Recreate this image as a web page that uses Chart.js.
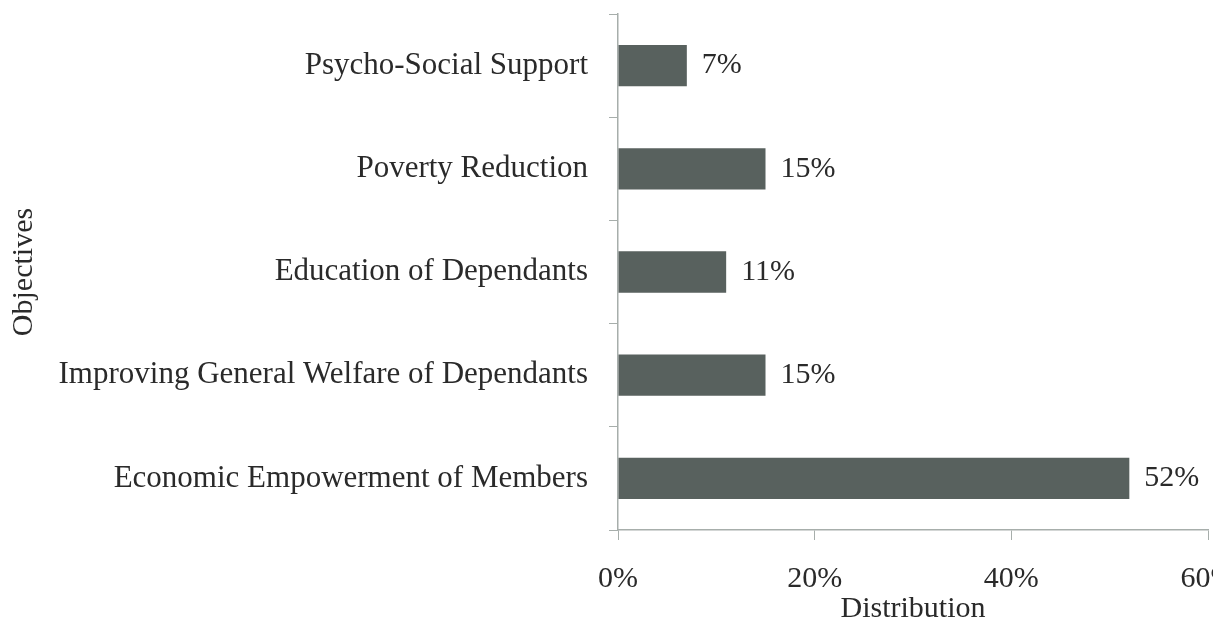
<!DOCTYPE html>
<html>
<head>
<meta charset="utf-8">
<script src="https://cdn.jsdelivr.net/npm/chart.js@4"></script>
<style>
  html, body { margin: 0; padding: 0; background: #fff; overflow: hidden; }
  #wrap { width: 1213px; height: 624px; position: relative; }
</style>
</head>
<body>
<div id="wrap"><canvas id="objectives_chart"></canvas></div>
<script>
const objectives = [
  'Psycho-Social Support',
  'Poverty Reduction',
  'Education of Dependants',
  'Improving General Welfare of Dependants',
  'Economic Empowerment of Members'
];
const distribution = [7, 15, 11, 15, 52];
const xTicks = [0, 20, 40, 60];

const barColor = '#58615e';
const axisColor = '#a7aeab';
const textColor = '#2a2a2a';

Chart.defaults.font.family = "'Liberation Serif', 'Times New Roman', serif";
Chart.defaults.color = textColor;

// value labels at the end of each bar
const valueLabels = {
  id: 'valueLabels',
  afterDatasetsDraw(chart) {
    const ctx = chart.ctx;
    const meta = chart.getDatasetMeta(0);
    ctx.save();
    ctx.font = "30px 'Liberation Serif', serif";
    ctx.fillStyle = textColor;
    ctx.textAlign = 'left';
    ctx.textBaseline = 'middle';
    meta.data.forEach((bar, i) => {
      ctx.fillText(distribution[i] + '%', bar.x + 15, bar.y);
    });
    ctx.restore();
  }
};

const ctx = document.getElementById('objectives_chart');

new Chart(ctx, {
  type: 'bar',
  data: {
    labels: objectives,
    datasets: [
      {
        label: 'Distribution',
        data: distribution,
        backgroundColor: barColor,
        borderWidth: 0,
        barPercentage: 0.4,
        categoryPercentage: 1
      }
    ]
  },
  options: {
    indexAxis: 'y',
    responsive: true,
    maintainAspectRatio: false,
    animation: false,
    layout: { padding: { top: 14, right: 5, left: 0, bottom: 0 } },
    plugins: {
      legend: { display: false },
      tooltip: { enabled: false }
    },
    scales: {
      x: {
        min: 0,
        max: 60,
        afterBuildTicks: scale => {
          scale.ticks = xTicks.map(v => ({ value: v }));
        },
        afterFit: scale => {
          scale.height = 94;
          scale.paddingRight = 0;
          scale.paddingLeft = 0;
        },
        grid: {
          drawOnChartArea: false,
          drawTicks: true,
          tickLength: 10,
          color: axisColor
        },
        border: { display: true, color: axisColor, width: 1.5 },
        ticks: {
          padding: 21,
          font: { size: 30 },
          color: textColor,
          callback: v => v + '%'
        },
        title: {
          display: true,
          text: 'Distribution',
          font: { size: 30, lineHeight: 1 },
          color: textColor,
          padding: { top: 0, bottom: 0 }
        }
      },
      y: {
        afterFit: scale => {
          scale.width = 618;
          scale.paddingTop = 0;
          scale.paddingBottom = 0;
        },
        grid: {
          offset: true,
          drawOnChartArea: false,
          drawTicks: true,
          tickLength: 9,
          color: axisColor
        },
        border: { display: true, color: axisColor, width: 1.5 },
        ticks: {
          padding: 21,
          font: { size: 31 },
          color: textColor
        },
        title: {
          display: true,
          text: 'Objectives',
          font: { size: 30, lineHeight: 1 },
          color: textColor,
          padding: { top: 9, bottom: 0 }
        }
      }
    }
  },
  plugins: [valueLabels]
});
</script>
</body>
</html>
